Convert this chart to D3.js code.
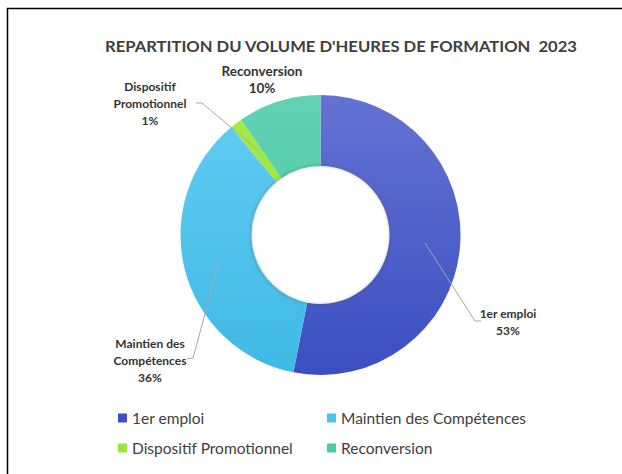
<!DOCTYPE html>
<html>
<head>
<meta charset="utf-8">
<script src="https://cdn.jsdelivr.net/npm/d3@7"></script>
<style>
  body { margin: 0; background: #fff; }
  svg { display: block; font-family: Lato, "Open Sans", sans-serif; }
</style>
</head>
<body>
<svg id="chart"></svg>
<script>
// data
var categories = ["1er emploi", "Maintien des Compétences", "Dispositif Promotionnel", "Reconversion"];
var values = [53.1, 35.9, 1.4, 9.6];
var labelLines = [["1er emploi"], ["Maintien des", "Compétences"], ["Dispositif", "Promotionnel"], ["Reconversion"]];
var topColors = ["#6472d2", "#62cdf2", "#a8ec48", "#62d2b4"];
var bottomColors = ["#3a4fc2", "#3fb9e6", "#8edc2c", "#46c49e"];
var legendColors = ["#3f51c0", "#4cc3ef", "#9be43a", "#4ecba6"];

var width = 622, height = 474;
var svg = d3.select("#chart").attr("width", width).attr("height", height);

// frame
svg.append("path")
  .attr("d", "M7.5," + height + " L7.5,8.5 L" + width + ",8.5")
  .attr("fill", "none")
  .attr("stroke", "#000")
  .attr("stroke-width", 1.5);

// title
svg.append("text")
  .attr("x", 341)
  .attr("y", 52)
  .attr("text-anchor", "middle")
  .attr("textLength", 472)
  .attr("lengthAdjust", "spacingAndGlyphs")
  .style("font-size", "16px")
  .style("font-weight", "bold")
  .style("fill", "#404040")
  .text("REPARTITION DU VOLUME D'HEURES DE FORMATION\u00a0\u00a02023");

var cx = 320.5, cy = 235, outerR = 140, innerR = 69;

var defs = svg.append("defs");
categories.forEach(function(c, i) {
  var grad = defs.append("linearGradient")
    .attr("id", "grad" + i)
    .attr("gradientUnits", "userSpaceOnUse")
    .attr("x1", 0).attr("y1", -outerR)
    .attr("x2", 0).attr("y2", outerR);
  grad.append("stop").attr("offset", "0%").attr("stop-color", topColors[i]);
  grad.append("stop").attr("offset", "100%").attr("stop-color", bottomColors[i]);
});
var blur = defs.append("filter").attr("id", "blur")
  .attr("x", "-20%").attr("y", "-20%").attr("width", "140%").attr("height", "140%");
blur.append("feGaussianBlur").attr("stdDeviation", 1.5);

var pie = d3.pie().sort(null).value(function(d) { return d; });
var arcs = pie(values);
var arc = d3.arc().innerRadius(innerR).outerRadius(outerR);

var g = svg.append("g").attr("transform", "translate(" + cx + "," + cy + ")");
g.selectAll("path.slice")
  .data(arcs)
  .enter().append("path")
  .attr("class", "slice")
  .attr("d", arc)
  .attr("fill", function(d, i) { return "url(#grad" + i + ")"; });

// soft inner shadow
g.append("circle")
  .attr("r", innerR + 0.5)
  .attr("fill", "none")
  .attr("stroke", "#555")
  .attr("stroke-opacity", 0.35)
  .attr("stroke-width", 1.5)
  .attr("filter", "url(#blur)");

// data labels with leader lines
var labelPos = [[508, 314], [150, 344], [150, 87], [262, 72]];
var labelSize = [12, 12, 12, 13.5];
var leaders = [
  [[425, 243], [475, 321], [481, 321]],
  [[219, 262], [193, 358], [187, 359]],
  [[259, 151], [202, 103], [196, 103]],
  null
];
var line = d3.line();
leaders.forEach(function(pts) {
  if (!pts) return;
  svg.append("path")
    .attr("d", line(pts))
    .attr("fill", "none")
    .attr("stroke", "#a6a6a6")
    .attr("stroke-width", 1);
});

categories.forEach(function(c, i) {
  var lines = labelLines[i].concat([Math.round(values[i]) + "%"]);
  var t = svg.append("text")
    .attr("text-anchor", "middle")
    .style("font-size", labelSize[i] + "px")
    .style("font-weight", "bold")
    .style("fill", "#333");
  lines.forEach(function(l, k) {
    t.append("tspan")
      .attr("x", labelPos[i][0])
      .attr("y", labelPos[i][1] + k * 17 + 4)
      .text(l);
  });
});

// legend
var legendX = [118, 327], legendY = [418, 448];
var legend = svg.selectAll("g.legend")
  .data(categories)
  .enter().append("g")
  .attr("class", "legend")
  .attr("transform", function(d, i) {
    return "translate(" + legendX[i % 2] + "," + legendY[Math.floor(i / 2)] + ")";
  });
legend.append("rect")
  .attr("x", 0).attr("y", -4.5)
  .attr("width", 9).attr("height", 9)
  .attr("fill", function(d, i) { return legendColors[i]; });
legend.append("text")
  .attr("x", 14)
  .attr("y", 5.5)
  .style("font-size", "15.5px")
  .style("fill", "#404040")
  .text(function(d) { return d; });
</script>
</body>
</html>
